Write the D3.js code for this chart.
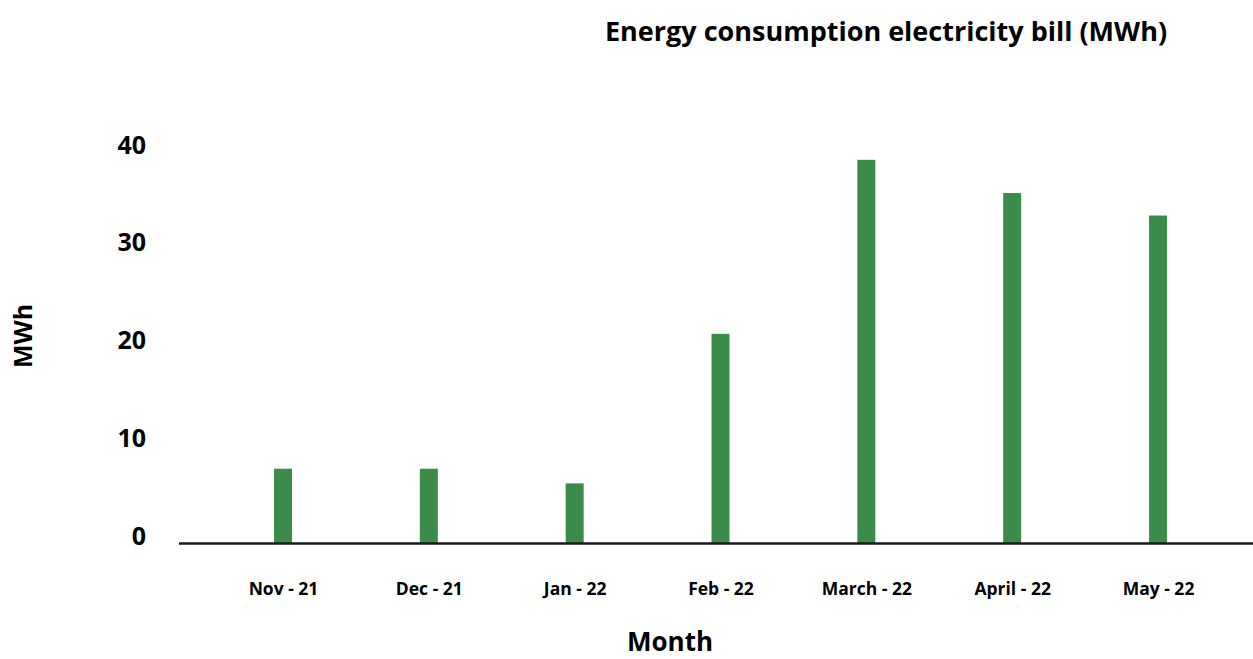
<!DOCTYPE html>
<html>
<head>
<meta charset="utf-8">
<script src="https://cdn.jsdelivr.net/npm/d3@7"></script>
<style>
  body { margin: 0; background: #fff; }
  text { font-family: "Open Sans", sans-serif; font-weight: 700; fill: #000; }
</style>
</head>
<body>
<script>
// chart data
var months = ["Nov - 21", "Dec - 21", "Jan - 22", "Feb - 22", "March - 22", "April - 22", "May - 22"];
var mwh = [7.6, 7.6, 6.1, 21.4, 39.2, 35.8, 33.5];
var yTicks = [0, 10, 20, 30, 40];

var width = 1253, height = 659;

var svg = d3.select("body")
            .append("svg")
            .attr("width", width)
            .attr("height", height);

// scales
var x = d3.scalePoint()
          .domain(months)
          .range([283, 1158]);

var y = d3.scaleLinear()
          .domain([0, 40])
          .range([543, 152]);

var barWidth = 18;

// bars
svg.selectAll(".bar")
   .data(mwh)
   .enter()
   .append("rect")
   .attr("class", "bar")
   .attr("x", function(d, i) { return x(months[i]) - barWidth / 2; })
   .attr("y", function(d) { return y(d); })
   .attr("width", barWidth)
   .attr("height", function(d) { return y(0) - y(d); })
   .attr("fill", "#3a8c48");

// baseline
svg.append("line")
   .attr("x1", 179)
   .attr("x2", width)
   .attr("y1", y(0) + 0.5)
   .attr("y2", y(0) + 0.5)
   .attr("stroke", "#1a1a1a")
   .attr("stroke-width", 2.5);

// y axis (labels only)
var yAxis = d3.axisLeft(y)
              .tickValues(yTicks)
              .tickSize(0)
              .tickPadding(0);

svg.append("g")
   .attr("transform", "translate(146,-7)")
   .call(yAxis)
   .call(function(g) { g.select(".domain").remove(); })
   .selectAll("text")
   .attr("font-family", "Open Sans, sans-serif")
   .attr("font-weight", 700)
   .attr("font-size", 25)
   .attr("fill", "#000");

// x axis (labels only)
var xAxis = d3.axisBottom(x)
              .tickSize(0)
              .tickPadding(0);

svg.append("g")
   .attr("transform", "translate(0,583)")
   .call(xAxis)
   .call(function(g) { g.select(".domain").remove(); })
   .selectAll("text")
   .attr("font-family", "Open Sans, sans-serif")
   .attr("font-weight", 700)
   .attr("font-size", 17.5)
   .attr("fill", "#000");

// title
svg.append("text")
   .attr("x", 886)
   .attr("y", 41)
   .attr("text-anchor", "middle")
   .style("font-size", "27px")
   .text("Energy consumption electricity bill (MWh)");

// axis titles
svg.append("text")
   .attr("x", 670)
   .attr("y", 651)
   .attr("text-anchor", "middle")
   .style("font-size", "26px")
   .text("Month");

svg.append("text")
   .attr("transform", "translate(32,336) rotate(-90)")
   .attr("text-anchor", "middle")
   .style("font-size", "25px")
   .text("MWh");
</script>
</body>
</html>
